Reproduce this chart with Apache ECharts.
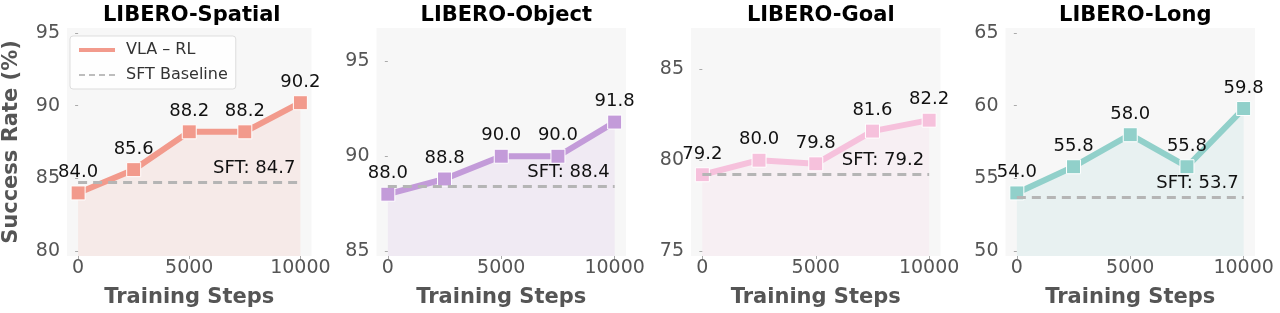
<!DOCTYPE html>
<html>
<head>
<meta charset="utf-8">
<script src="https://cdn.jsdelivr.net/npm/echarts@6/dist/echarts.min.js"></script>
<style>
  html, body { margin: 0; padding: 0; background: #fff; }
  #chart { width: 1280px; height: 313px; }
</style>
</head>
<body>
<div id="chart"></div>
<script>
// data
const steps = [0, 2500, 5000, 7500, 10000];
const titles = ['LIBERO-Spatial', 'LIBERO-Object', 'LIBERO-Goal', 'LIBERO-Long'];
const spatial = [84.0, 85.6, 88.2, 88.2, 90.2];
const object = [88.0, 88.8, 90.0, 90.0, 91.8];
const goal = [79.2, 80.0, 79.8, 81.6, 82.2];
const longTask = [54.0, 55.8, 58.0, 55.8, 59.8];
const sft = [84.7, 88.4, 79.2, 53.7];
const yRanges = [[80, 95], [85, 96.5], [75, 87], [50, 65]];
const yTicks = [[80, 85, 90, 95], [85, 90, 95], [75, 80, 85], [50, 55, 60, 65]];
const xTicks = [0, 5000, 10000];

const seriesValues = [spatial, object, goal, longTask];
const colors = ['#f29a8c', '#c39bd9', '#f6c1dc', '#91d0ca'];
const font = 'DejaVu Sans';

const chart = echarts.init(document.getElementById('chart'), null, { renderer: 'canvas' });

const lefts = [62, 376.5, 691, 1005.5];
const gridW = 249.5, gridTop = 28, gridH = 234;
const innerPad = 5; // px between data range and background edge

let grids = [], xAxes = [], yAxes = [], series = [], title = [];
for (let i = 0; i < 4; i++) {
    grids.push({
        left: lefts[i], top: gridTop, width: gridW, height: gridH,
        show: true, backgroundColor: '#f7f7f7', borderWidth: 0
    });
    title.push({
        text: titles[i],
        left: lefts[i] + gridW / 2,
        top: 0,
        textAlign: 'center',
        textStyle: { fontFamily: font, fontWeight: 'bold', fontSize: 21, color: '#000' }
    });
    xAxes.push({
        gridIndex: i, type: 'value', min: -500, max: 10500,
        name: 'Training Steps', nameLocation: 'middle', nameGap: 31,
        nameTextStyle: { fontFamily: font, fontWeight: 'bold', fontSize: 21, color: '#555' },
        axisLine: { show: false },
        axisTick: { show: true, length: 3, lineStyle: { color: '#aaa' }, customValues: xTicks },
        axisLabel: {
            customValues: xTicks, fontFamily: font, fontSize: 19, color: '#555', margin: 3,
            formatter: v => String(v)
        },
        splitLine: { show: false }
    });
    const lo = yRanges[i][0], hi = yRanges[i][1];
    const pad = (hi - lo) * innerPad / (gridH - 2 * innerPad);
    const yAxis = {
        gridIndex: i, type: 'value', min: lo - pad, max: hi + pad,
        axisLine: { show: false },
        axisTick: { show: true, length: 3, lineStyle: { color: '#aaa' }, customValues: yTicks[i] },
        axisLabel: { customValues: yTicks[i], fontFamily: font, fontSize: 19, color: '#555', margin: 7 },
        splitLine: { show: false }
    };
    if (i === 0) {
        yAxis.name = 'Success Rate (%)';
        yAxis.nameLocation = 'middle';
        yAxis.nameRotate = 90;
        yAxis.nameGap = 45;
        yAxis.nameTextStyle = { fontFamily: font, fontWeight: 'bold', fontSize: 21, color: '#555' };
    }
    yAxes.push(yAxis);

    series.push({
        name: 'VLA – RL',
        type: 'line',
        xAxisIndex: i, yAxisIndex: i,
        data: steps.map((s, k) => [s, seriesValues[i][k]]),
        symbol: 'rect',
        symbolSize: 14,
        lineStyle: { color: colors[i], width: 6 },
        itemStyle: { color: colors[i], borderColor: '#fff', borderWidth: 1 },
        areaStyle: { color: colors[i], opacity: 0.14, origin: 'start' },
        label: {
            show: true, position: 'top', distance: 4,
            fontFamily: font, fontSize: 18, color: '#111',
            formatter: p => p.value[1].toFixed(1)
        },
        markLine: {
            silent: true,
            symbol: ['none', 'none'],
            animation: false,
            lineStyle: { color: '#b5b5b5', width: 3, type: [9, 6] },
            label: {
                show: true, position: 'insideEndTop', distance: 5,
                fontFamily: font, fontSize: 18, color: '#111',
                formatter: 'SFT: ' + sft[i].toFixed(1)
            },
            data: [[{ coord: [steps[0], sft[i]] }, { coord: [steps[steps.length - 1], sft[i]] }]]
        },
        z: 3
    });
}

// legend-only series for the baseline
series.push({
    name: 'SFT Baseline',
    type: 'line',
    xAxisIndex: 0, yAxisIndex: 0,
    data: [],
    symbol: 'none',
    lineStyle: { color: '#bdbdbd', width: 2, type: [6, 4] }
});

const option = {
    backgroundColor: '#ffffff',
    animation: false,
    title: title,
    grid: grids,
    xAxis: xAxes,
    yAxis: yAxes,
    legend: {
        orient: 'vertical',
        left: 70, top: 36,
        padding: [6, 8, 6, 7],
        itemWidth: 36, itemHeight: 14, itemGap: 9,
        backgroundColor: 'rgba(255,255,255,0.85)',
        borderColor: '#dddddd', borderWidth: 1, borderRadius: 3,
        itemStyle: { color: 'rgba(0,0,0,0)', borderWidth: 0 },
        textStyle: { fontFamily: font, fontSize: 16, color: '#333', padding: [0, 0, 0, 6] },
        data: [
            { name: 'VLA – RL', lineStyle: { width: 4 } },
            { name: 'SFT Baseline', lineStyle: { width: 2, type: [6, 4] } }
        ]
    },
    series: series
};

chart.setOption(option);
</script>
</body>
</html>
